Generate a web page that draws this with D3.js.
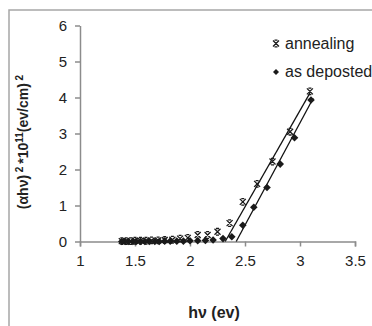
<!DOCTYPE html>
<html>
<head>
<meta charset="utf-8">
<script src="https://cdn.jsdelivr.net/npm/d3@7"></script>
<style>
    body { margin: 0; background: #fff; }
    svg { display: block; font-family: Arial, "Liberation Sans", sans-serif; }
    .axis path, .axis line { stroke: #8c8c8c; stroke-width: 1.5; }
    .axis text { font-size: 15px; fill: #222; }
</style>
</head>
<body>
<svg id="chart" width="372" height="326"></svg>
<script>
// annealing series (star markers)
let annealX = [3.09, 2.91, 2.75, 2.61, 2.48, 2.36, 2.25, 2.16, 2.07, 1.98, 1.91, 1.84, 1.77, 1.71, 1.65, 1.60, 1.55, 1.50, 1.46, 1.42, 1.38];
let annealY = [4.17, 3.05, 2.22, 1.60, 1.10, 0.51, 0.27, 0.18, 0.18, 0.10, 0.08, 0.05, 0.04, 0.03, 0.03, 0.02, 0.02, 0.02, 0.01, 0.01, 0.01];

// as deposited series (diamond markers)
let depX = [3.10, 2.95, 2.82, 2.70, 2.58, 2.48, 2.38, 2.30, 2.21, 2.14, 2.07, 2.00, 1.94, 1.88, 1.82, 1.77, 1.72, 1.68, 1.63, 1.59, 1.55, 1.51, 1.48, 1.44, 1.41, 1.38];
let depY = [3.93, 2.88, 2.15, 1.50, 0.95, 0.45, 0.13, 0.08, 0.04, 0.03, 0.02, 0.02, 0.01, 0.01, 0.01, 0.01, 0, 0, 0, 0, 0, 0, 0, 0, 0, 0];

// linear fit lines
let fitAnnealX = [2.32, 3.09];
let fitAnnealY = [0, 4.12];
let fitDepX = [2.42, 3.12];
let fitDepY = [0, 3.98];

let xTicks = [1, 1.5, 2, 2.5, 3, 3.5];
let yTicks = [0, 1, 2, 3, 4, 5, 6];
let seriesNames = ["annealing", "as deposted"];

let svg = d3.select("#chart");

// outer chart frame (runs off the right and bottom edges)
svg.append("rect")
    .attr("x", 9)
    .attr("y", 10)
    .attr("width", 400)
    .attr("height", 400)
    .attr("fill", "none")
    .attr("stroke", "#a6a6a6")
    .attr("stroke-width", 1.5);

let xScale = d3.scaleLinear().domain([1, 3.5]).range([80, 355]);
let yScale = d3.scaleLinear().domain([0, 6]).range([241.5, 25.5]);

// axes
svg.append("g")
    .attr("class", "x axis")
    .attr("transform", "translate(0," + yScale(0) + ")")
    .call(d3.axisBottom(xScale).tickValues(xTicks).tickSize(5).tickSizeOuter(5).tickPadding(9).tickFormat(d3.format("")));

svg.append("g")
    .attr("class", "y axis")
    .attr("transform", "translate(" + xScale(1) + ",0)")
    .call(d3.axisLeft(yScale).tickValues(yTicks).tickSize(5).tickSizeOuter(0).tickPadding(8).tickFormat(d3.format("d")));

// trend lines
let line = d3.line()
    .x((d) => xScale(d[0]))
    .y((d) => yScale(d[1]));

[[fitAnnealX, fitAnnealY], [fitDepX, fitDepY]].forEach((f) => {
    svg.append("path")
        .attr("d", line(f[0].map((x, i) => [x, f[1][i]])))
        .attr("fill", "none")
        .attr("stroke", "#111")
        .attr("stroke-width", 1.3);
});

// marker shapes
let starPath = "M-3,-3L3,3M3,-3L-3,3M-1.5,-3.3L1.5,-3.3M-1.5,3.3L1.5,3.3";
let diamondPath = "M0,-3.8L3.8,0L0,3.8L-3.8,0Z";

svg.append("g").selectAll("path")
    .data(depX.map((x, i) => [x, depY[i]]))
    .enter()
    .append("path")
    .attr("transform", (d) => "translate(" + xScale(d[0]) + "," + yScale(d[1]) + ")")
    .attr("d", diamondPath)
    .attr("fill", "#1a1a1a");

svg.append("g").selectAll("path")
    .data(annealX.map((x, i) => [x, annealY[i]]))
    .enter()
    .append("path")
    .attr("transform", (d) => "translate(" + xScale(d[0]) + "," + yScale(d[1]) + ")")
    .attr("d", starPath)
    .attr("fill", "none")
    .attr("stroke", "#1a1a1a")
    .attr("stroke-width", 1.3);

// legend
let legend = svg.append("g");
legend.append("path")
    .attr("transform", "translate(276,43.5)")
    .attr("d", starPath)
    .attr("fill", "none")
    .attr("stroke", "#1a1a1a")
    .attr("stroke-width", 1.3);
legend.append("path")
    .attr("transform", "translate(276,72)")
    .attr("d", "M0,-3L3,0L0,3L-3,0Z")
    .attr("fill", "#1a1a1a");
legend.selectAll("text")
    .data(seriesNames)
    .enter()
    .append("text")
    .attr("x", 285)
    .attr("y", (d, i) => 48.5 + i * 28.5)
    .style("font-size", "16px")
    .attr("fill", "#222")
    .text((d) => d);

// axis titles
svg.append("text")
    .attr("x", 214)
    .attr("y", 318)
    .attr("text-anchor", "middle")
    .style("font-size", "16px")
    .style("font-weight", "bold")
    .attr("fill", "#222")
    .text("hν (ev)");

let yTitle = svg.append("text")
    .attr("text-anchor", "middle")
    .attr("transform", "translate(28,142) rotate(-90)")
    .style("font-size", "14px")
    .style("font-weight", "bold")
    .attr("fill", "#222");
yTitle.append("tspan").text("(αhν)");
yTitle.append("tspan").attr("dy", -5).style("font-size", "10px").text(" 2 ");
yTitle.append("tspan").attr("dy", 5).text("*10");
yTitle.append("tspan").attr("dy", -5).style("font-size", "10px").text("11");
yTitle.append("tspan").attr("dy", 5).text("(ev/cm)");
yTitle.append("tspan").attr("dy", -5).style("font-size", "10px").text(" 2");
</script>
</body>
</html>
